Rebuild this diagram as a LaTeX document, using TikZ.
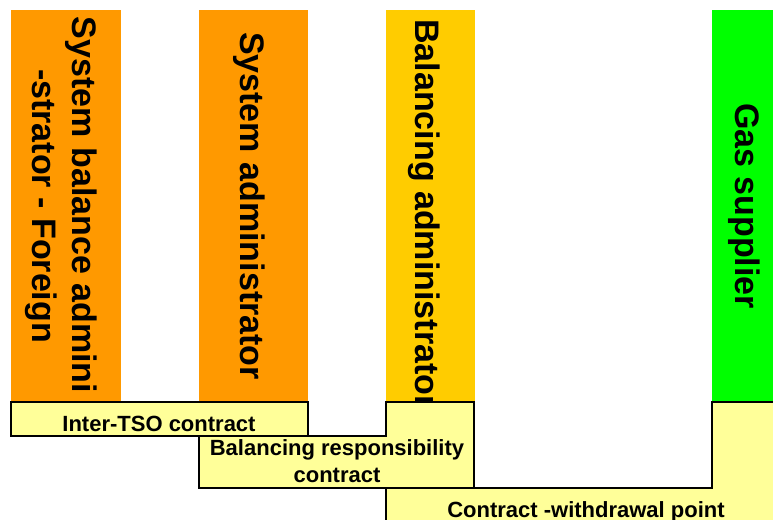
\documentclass[tikz,border=0pt]{standalone}
\usepackage{fontspec}
\setmainfont{Liberation Sans}
\definecolor{orangeA}{HTML}{FF9900}
\definecolor{goldA}{HTML}{FFCC00}
\definecolor{greenA}{HTML}{00FF00}
\definecolor{paleY}{HTML}{FFFF99}
\tikzset{
  colbox/.style={inner sep=0pt, outer sep=0pt, draw=none},
  vlabel/.style={rotate=-90, anchor=base, inner sep=0pt, font=\bfseries\fontsize{34}{40}\selectfont},
  hlabel/.style={anchor=base, inner sep=0pt, font=\bfseries\fontsize{22}{27}\selectfont},
  contract/.style={fill=paleY, draw=black, line width=2pt, line join=miter}
}
\begin{document}
\begin{tikzpicture}[x=1pt,y=-1pt]
\useasboundingbox (0,0) rectangle (773,519);
% columns
\fill[orangeA] (11,10) rectangle (121,401);
\fill[orangeA] (199,10) rectangle (308,401);
\fill[goldA] (386,10) rectangle (475,401);
\fill[greenA] (712,10) rectangle (775,401);
% vertical labels
\node[vlabel] (c1a) at (72,205) {System balance admini};
\node[vlabel] (c1b) at (32,206) {-strator - Foreign};
\node[vlabel] (c2) at (240,206) {System administrator};
\node[vlabel] (c3) at (415,214) {Balancing administrator};
\node[vlabel] (c4) at (735,206) {Gas supplier};
% contract boxes
\draw[contract] (386,488) -- (712,488) -- (712,402) -- (780,402) -- (780,530) -- (386,530) -- cycle;
\draw[contract] (199,436) -- (386,436) -- (386,402) -- (474,402) -- (474,488) -- (199,488) -- cycle;
\draw[contract] (11,402) rectangle (308,436);
\node[hlabel] (t1) at (159,431) {Inter-TSO contract};
\node[hlabel] (t2a) at (337,455) {Balancing responsibility};
\node[hlabel] (t2b) at (337,482) {contract};
\node[hlabel] (t3) at (586,517) {Contract -withdrawal point};
\end{tikzpicture}
\end{document}
